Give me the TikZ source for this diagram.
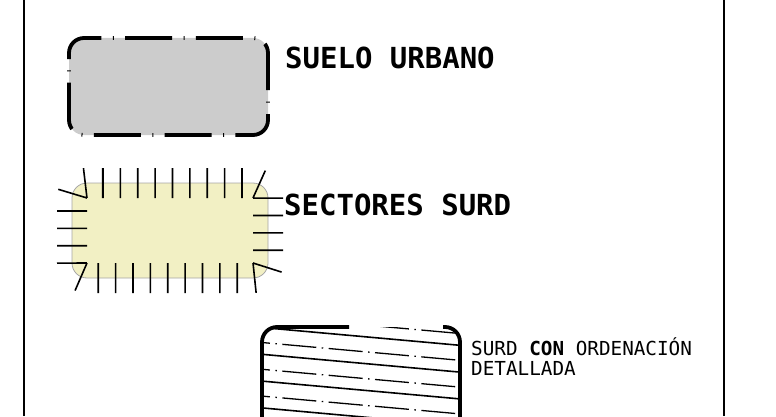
\documentclass[tikz,border=0pt]{standalone}
\usepackage{fontspec}
\setmonofont{DejaVu Sans Mono}
\usetikzlibrary{decorations.pathreplacing}
\definecolor{urbangray}{RGB}{204,204,204}
\definecolor{surdyellow}{RGB}{242,240,196}

\begin{document}
\begin{tikzpicture}[x=1pt,y=1pt,
    bigtext/.style={anchor=base west,inner sep=0pt,font=\ttfamily\bfseries\fontsize{29}{32}\selectfont},
    smalltext/.style={anchor=base west,inner sep=0pt,align=left,font=\ttfamily\fontsize{19.3}{20}\selectfont},
    urbanline/.style={line width=3.8pt,rounded corners=15pt,dash pattern=on 1pt off 11.4pt on 47pt off 11.4pt},
    surdline/.style={draw=gray!70,line width=0.8pt},
    surdticks/.style={draw=black,line width=1.6pt,decorate,decoration={ticks,segment length=17.37pt,amplitude=15pt}},
    hatchline/.style={line width=1.6pt},
    dashdotline/.style={line width=1.3pt,dash pattern=on 34pt off 5.5pt on 1.5pt off 5.5pt,dash phase=19pt}]
  \useasboundingbox (0,0) rectangle (776,416);
  \clip (0,0) rectangle (776,416);
  % frame
  \draw[line width=2.2pt] (24,0) -- (24,416);
  \draw[line width=2.2pt] (724,0) -- (724,416);
  % suelo urbano
  \draw[urbanline,fill=urbangray] (69,329.5) -- (69,378) -- (268,378) -- (268,281) -- (69,281) -- cycle;
  \node[bigtext] (suelo) at (285,348) {SUELO URBANO};
  % sectores surd
  \path[fill=surdyellow,surdline,postaction={surdticks}] (103,233) -- (253,233)
    arc[start angle=90,end angle=0,radius=15pt] -- (268,153)
    arc[start angle=0,end angle=-90,radius=15pt] -- (87,138)
    arc[start angle=270,end angle=180,radius=15pt] -- (72,218)
    arc[start angle=180,end angle=90,radius=15pt] -- cycle;
  \node[bigtext] (sectores) at (284,201) {SECTORES SURD};
  % surd con ordenacion
  \begin{scope}
    \clip[rounded corners=15pt] (262,-24) rectangle (460,89);
    \foreach \k in {0,...,4}
      \draw[hatchline] (255,{88.5-26.8*\k+0.63}) -- (470,{88.5-26.8*\k-18.72});
    \foreach \k in {-1,...,4}
      \draw[dashdotline] (255,{73.5-26.8*\k+0.63}) -- (470,{73.5-26.8*\k-18.72});
  \end{scope}
  \draw[line width=3.8pt,rounded corners=15pt] (443,89) -- (460,89) -- (460,-24) -- (262,-24) -- (262,89) -- (349,89);
  \node[smalltext] (surd) at (471,41) {SURD \textbf{CON} ORDENACIÓN\\DETALLADA};
\end{tikzpicture}
\end{document}
